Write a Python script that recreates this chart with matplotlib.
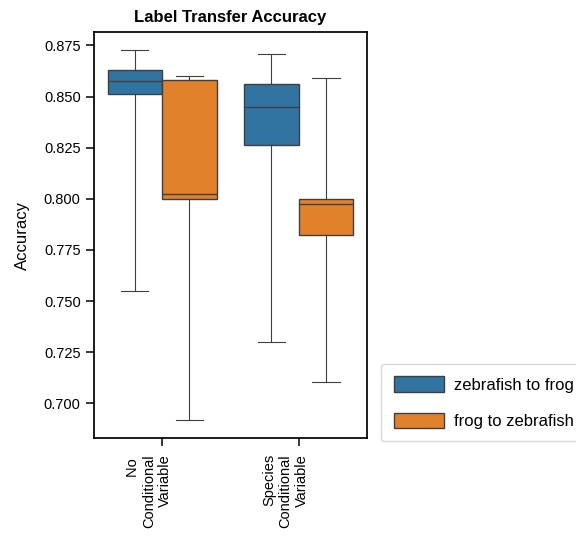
import matplotlib
matplotlib.use("Agg")
import matplotlib.pyplot as plt
import matplotlib.transforms as mtransforms
from matplotlib.patches import Patch

plt.rcParams['font.family'] = ['Liberation Sans', 'DejaVu Sans']
plt.rcParams['font.size'] = 10.5
plt.rcParams['xtick.major.size'] = 6
plt.rcParams['ytick.major.size'] = 6
plt.rcParams['xtick.major.width'] = 1.1
plt.rcParams['ytick.major.width'] = 1.1
plt.rcParams['xtick.major.pad'] = 5.5

groups = ["No \nConditional\nVariable", "Species\nConditional\nVariable"]
hues = ["zebrafish to frog", "frog to zebrafish"]
colors = ["#3274a1", "#e1812c"]

# box stats per group, per hue: whislo, q1, med, q3, whishi
zf_to_frog = [
    [0.7548, 0.8515, 0.8578, 0.8630, 0.8726],
    [0.7300, 0.8264, 0.8450, 0.8564, 0.8710],
]
frog_to_zf = [
    [0.6920, 0.7999, 0.8022, 0.8580, 0.8603],
    [0.7103, 0.7823, 0.7977, 0.8001, 0.8591],
]

fig = plt.figure(figsize=(5.76, 5.41), dpi=100)
ax = fig.add_axes([0.163, 0.190, 0.474, 0.751])

edge = "#3f3f3f"
for h, (series, col) in enumerate(zip([zf_to_frog, frog_to_zf], colors)):
    stats = []
    for vals in series:
        lo, q1, med, q3, hi = vals
        stats.append(dict(whislo=lo, q1=q1, med=med, q3=q3, whishi=hi, fliers=[]))
    pos = [i + (h - 0.5) * 0.4 for i in range(len(groups))]
    ax.bxp(stats, positions=pos, widths=0.4, patch_artist=True, showfliers=False,
           boxprops=dict(facecolor=col, edgecolor=edge, linewidth=1),
           medianprops=dict(color=edge, linewidth=1),
           whiskerprops=dict(color=edge, linewidth=0.8),
           capprops=dict(color=edge, linewidth=0.8),
           capwidths=0.2)

ax.set_xlim(-0.5, 1.5)
ax.set_xticks(range(len(groups)))
ax.set_xticklabels(groups, rotation=90, ha='center', multialignment='right')
offset = mtransforms.ScaledTranslation(-13 / 100, 0, fig.dpi_scale_trans)
for lab in ax.get_xticklabels():
    lab.set_transform(lab.get_transform() + offset)

ax.set_yticks([0.700, 0.725, 0.750, 0.775, 0.800, 0.825, 0.850, 0.875])
ax.set_yticklabels([f"{t:.3f}" for t in ax.get_yticks()])
ax.set_ylabel("Accuracy", fontsize=12, labelpad=10)
ax.set_title("Label Transfer Accuracy", fontweight='bold', fontsize=12, pad=7)
for s in ax.spines.values():
    s.set_linewidth(1.25)

handles = [Patch(facecolor=c, edgecolor=edge, label=l) for c, l in zip(colors, hues)]
ax.legend(handles=handles, loc='lower left', bbox_to_anchor=(1.052, -0.008),
          fontsize=12, handlelength=3.0, handleheight=1.05, labelspacing=1.2,
          borderpad=0.75, handletextpad=0.65, borderaxespad=0, frameon=True)

fig.savefig("out.png", dpi=100)
